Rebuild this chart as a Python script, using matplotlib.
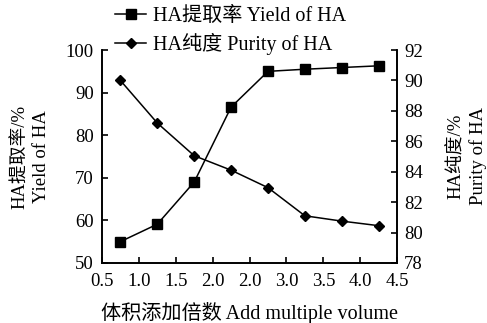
import numpy as np
import matplotlib
matplotlib.use("Agg")
import matplotlib.pyplot as plt

plt.rcParams['font.family'] = ['Liberation Serif', 'Noto Sans CJK SC']
plt.rcParams['font.size'] = 13

# tick labels as printed in the source figure (category-style axis)
x_ticklabels = ['0.5', '1.0', '1.5', '2.0', '2.0', '3.0', '3.5', '4.0', '4.5']
yield_ha = [55.0, 59.1, 69.0, 86.6, 95.0, 95.5, 95.9, 96.3]
purity_ha = [90.0, 87.2, 85.05, 84.1, 82.95, 81.1, 80.75, 80.45]

x_pos = np.arange(len(yield_ha)) + 0.5

fig = plt.figure(figsize=(4.87, 3.23), dpi=100)
ax = fig.add_axes([0.2094, 0.186, 0.606, 0.659])
ax2 = ax.twinx()

l1, = ax.plot(x_pos, yield_ha, color='black', lw=1.1, marker='s', ms=7,
              label='HA提取率 Yield of HA')
l2, = ax2.plot(x_pos, purity_ha, color='black', lw=1.1, marker='D', ms=5.2,
               label='HA纯度 Purity of HA')

ax.set_xlim(0, len(x_ticklabels) - 1)
ax.set_xticks(np.arange(len(x_ticklabels)))
ax.set_xticklabels(x_ticklabels)
ax.set_ylim(50, 100)
ax.set_yticks(np.arange(50, 101, 10))
ax2.set_ylim(78, 92)
ax2.set_yticks(np.arange(78, 93, 2))

for a in (ax, ax2):
    a.spines['top'].set_visible(False)
    for s in a.spines.values():
        s.set_linewidth(1.2)
    a.tick_params(direction='in', length=4, width=1.2, labelsize=13.5)
ax.tick_params(axis='x', pad=7)
ax.tick_params(axis='y', pad=6)
ax2.tick_params(axis='y', pad=5)

ax.set_ylabel('HA提取率/%\nYield of HA', fontsize=13.5, labelpad=11, linespacing=1.3)
ax2.set_ylabel('HA纯度/%\nPurity of HA', fontsize=13.5, labelpad=18, linespacing=1.3,
               rotation=90)
ax.set_xlabel('体积添加倍数 Add multiple volume', fontsize=14.5, labelpad=9)

fig.legend(handles=[l1, l2], loc='upper left', bbox_to_anchor=(0.236, 0.978),
           frameon=False, handlelength=1.55, handletextpad=0.35, labelspacing=0.35,
           fontsize=14.5, borderaxespad=0, borderpad=0)

fig.savefig('out.png', dpi=100)
